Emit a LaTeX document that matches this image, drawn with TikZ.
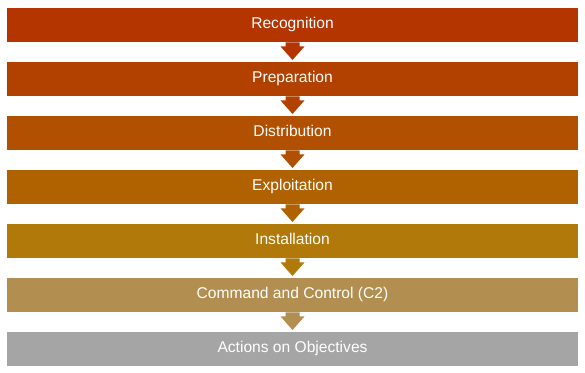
\documentclass[tikz,border=0pt]{standalone}
\usepackage{fontspec}
\setmainfont{Liberation Sans}
\usetikzlibrary{calc}
\definecolor{cA}{RGB}{180,53,0}
\definecolor{cB}{RGB}{178,65,0}
\definecolor{cC}{RGB}{177,80,0}
\definecolor{cD}{RGB}{176,97,0}
\definecolor{cE}{RGB}{176,121,10}
\definecolor{cF}{RGB}{178,143,80}
\definecolor{cG}{RGB}{165,165,165}
\begin{document}
\begin{tikzpicture}[x=1pt,y=1pt,
  stagebox/.style={fill=#1, minimum width=571pt, minimum height=34pt, inner sep=0pt, anchor=north},
  stagetext/.style={text=white, font=\fontsize{15.6}{17}\selectfont, inner sep=0pt, anchor=base},
  blockarrow/.style={fill=#1}]
\useasboundingbox (0,0) rectangle (585,-372);
\fill[white] (0,0) rectangle (585,-372);
\foreach \n/\y/\c/\t in {s1/-8/cA/Recognition, s2/-62/cB/Preparation, s3/-116/cC/Distribution,
  s4/-170/cD/Exploitation, s5/-224/cE/Installation, s6/-278/cF/Command and Control (C2),
  s7/-332/cG/Actions on Objectives}{
  \node[stagebox=\c] (\n) at (292.5,\y) {};
  \node[stagetext] (\n t) at ($(\n.center)+(0,-3.5)$) {\t};
}
\foreach \a/\b/\c in {s1/s2/cA, s2/s3/cB, s3/s4/cC, s4/s5/cD, s5/s6/cE, s6/s7/cF}{
  \fill[blockarrow=\c] ($(\a.south)+(-7,0)$) -- ($(\a.south)+(7,0)$) -- ($(\a.south)+(7,-4)$)
    -- ($(\a.south)+(12,-4)$) -- ($(\b.north)+(0,2)$) -- ($(\a.south)+(-12,-4)$)
    -- ($(\a.south)+(-7,-4)$) -- cycle;
}
\end{tikzpicture}
\end{document}
